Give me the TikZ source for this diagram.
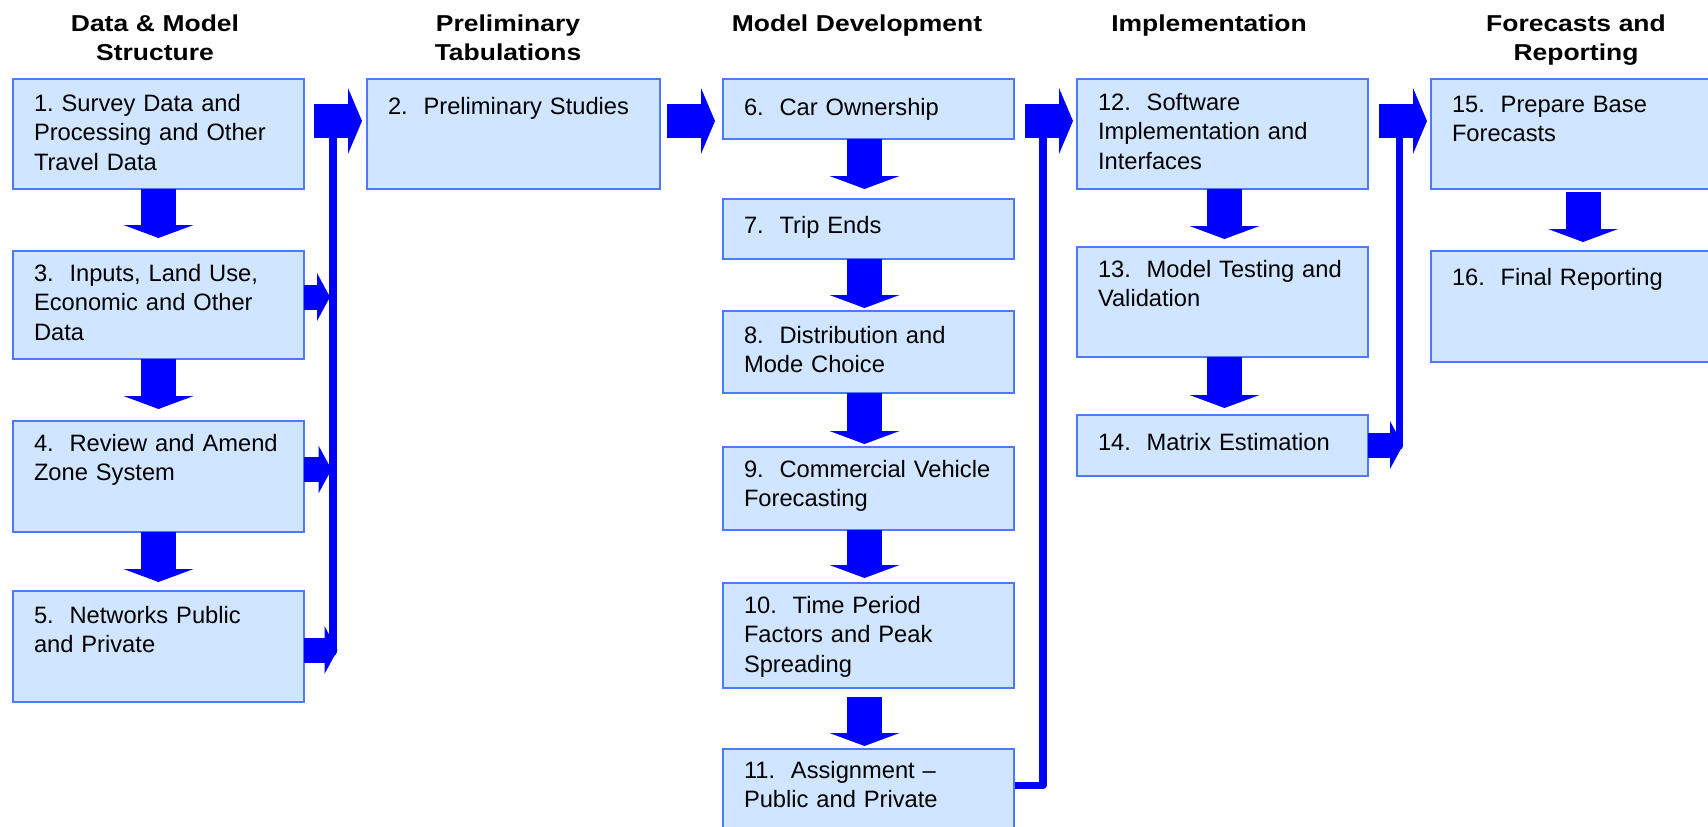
\documentclass[tikz,border=0pt]{standalone}
\usepackage{fontspec}
\setmainfont{Liberation Sans}
\newfontfamily\hdrfont{Liberation Sans}[FakeStretch=1.15]
\usetikzlibrary{arrows.meta,calc}
\definecolor{boxfill}{RGB}{208,229,255}
\definecolor{boxline}{RGB}{77,121,255}
\definecolor{flow}{RGB}{0,0,255}
\pgfdeclarelayer{bg}
\pgfsetlayers{bg,main}
\frenchspacing
\tikzset{
  boxst/.style={draw=boxline, fill=boxfill, line width=1.4pt, rectangle, inner sep=0pt, outer sep=0pt, anchor=north west},
  txt/.style={anchor=base west, inner sep=0pt, outer sep=0pt, text width=300pt, align=left, font={\fontsize{23.7}{29.8}\selectfont}},
  hdr/.style={anchor=base, inner sep=0pt, text width=340pt, align=center, font={\hdrfont\bfseries\fontsize{23}{29.5}\selectfont}},
  vflow/.style={draw=flow, line width=35pt, -{Triangle[width=70pt,length=13pt,line width=0pt]}},
  hflow/.style={draw=flow, line width=34pt, -{Triangle[width=66pt,length=14pt,line width=0pt]}},
  sflow/.style={draw=flow, line width=25pt, -{Triangle[width=48pt,length=13pt,line width=0pt]}},
  bus/.style={draw=flow, line width=7.5pt, line cap=round, line join=round},
}
\begin{document}
\begin{tikzpicture}[x=1pt,y=-1pt]
\useasboundingbox (0,0) rectangle (1708,827);
\clip (0,0) rectangle (1708,827);

% headers
\node[hdr] (h1) at (155,31) {Data \& Model\\Structure};
\node[hdr] (h2) at (508,31) {Preliminary\\Tabulations};
\node[hdr] (h3) at (857,31) {Model Development};
\node[hdr] (h4) at (1209,31) {Implementation};
\node[hdr] (h5) at (1576,31) {Forecasts and\\Reporting};

% boxes
\node[boxst, minimum width=291pt, minimum height=110pt] (b1) at (13,79) {};
\node[boxst, minimum width=291pt, minimum height=108pt] (b3) at (13,251) {};
\node[boxst, minimum width=291pt, minimum height=111pt] (b4) at (13,421) {};
\node[boxst, minimum width=291pt, minimum height=111pt] (b5) at (13,591) {};
\node[boxst, minimum width=293pt, minimum height=110pt] (b2) at (367,79) {};
\node[boxst, minimum width=291pt, minimum height=60pt] (b6) at (723,79) {};
\node[boxst, minimum width=291pt, minimum height=60pt] (b7) at (723,199) {};
\node[boxst, minimum width=291pt, minimum height=82pt] (b8) at (723,311) {};
\node[boxst, minimum width=291pt, minimum height=83pt] (b9) at (723,447) {};
\node[boxst, minimum width=291pt, minimum height=105pt] (b10) at (723,583) {};
\node[boxst, minimum width=291pt, minimum height=111pt] (b11) at (723,749) {};
\node[boxst, minimum width=291pt, minimum height=110pt] (b12) at (1077,79) {};
\node[boxst, minimum width=291pt, minimum height=110pt] (b13) at (1077,247) {};
\node[boxst, minimum width=291pt, minimum height=61pt] (b14) at (1077,415) {};
\node[boxst, minimum width=304pt, minimum height=110pt] (b15) at (1431,79) {};
\node[boxst, minimum width=304pt, minimum height=111pt] (b16) at (1431,251) {};

% box texts
\node[txt] (t1) at ([xshift=21pt,yshift=-32pt]b1.north west) {1. Survey Data and\\Processing and Other\\Travel Data};
\node[txt] (t2) at ([xshift=21pt,yshift=-35pt]b2.north west) {2.\ \ Preliminary Studies};
\node[txt] (t3) at ([xshift=21pt,yshift=-30pt]b3.north west) {3.\ \ Inputs, Land Use,\\Economic and Other\\Data};
\node[txt] (t4) at ([xshift=21pt,yshift=-30pt]b4.north west) {4.\ \ Review and Amend\\Zone System};
\node[txt] (t5) at ([xshift=21pt,yshift=-32pt]b5.north west) {5.\ \ Networks Public\\and Private};
\node[txt] (t6) at ([xshift=21pt,yshift=-36pt]b6.north west) {6.\ \ Car Ownership};
\node[txt] (t7) at ([xshift=21pt,yshift=-34pt]b7.north west) {7.\ \ Trip Ends};
\node[txt] (t8) at ([xshift=21pt,yshift=-32pt]b8.north west) {8.\ \ Distribution and\\Mode Choice};
\node[txt] (t9) at ([xshift=21pt,yshift=-30pt]b9.north west) {9.\ \ Commercial Vehicle\\Forecasting};
\node[txt] (t10) at ([xshift=21pt,yshift=-30pt]b10.north west) {10.\ \ Time Period\\Factors and Peak\\Spreading};
\node[txt] (t11) at ([xshift=21pt,yshift=-29pt]b11.north west) {11.\ \ Assignment –\\Public and Private};
\node[txt] (t12) at ([xshift=21pt,yshift=-31pt]b12.north west) {12.\ \ Software\\Implementation and\\Interfaces};
\node[txt] (t13) at ([xshift=21pt,yshift=-30pt]b13.north west) {13.\ \ Model Testing and\\Validation};
\node[txt] (t14) at ([xshift=21pt,yshift=-35pt]b14.north west) {14.\ \ Matrix Estimation};
\node[txt] (t15) at ([xshift=21pt,yshift=-33pt]b15.north west) {15.\ \ Prepare Base\\Forecasts};
\node[txt] (t16) at ([xshift=21pt,yshift=-34pt]b16.north west) {16.\ \ Final Reporting};

% junction coordinates
\coordinate (jA) at (314,121);
\coordinate (jB) at (1025,121);
\coordinate (jC) at (1379,121);
\coordinate (busLtop) at (333,138);
\coordinate (busLbot) at (333,652);
\coordinate (busMtop) at (1043,138);
\coordinate (busMcorner) at (1043,785.5);
\coordinate (busRtop) at (1399.5,138);
\coordinate (busRbot) at (1399.5,446);
\coordinate (s3) at (330,297);
\coordinate (s4) at (331.5,469.5);
\coordinate (s5) at (337.5,650);
\coordinate (s14) at (1403,445);

% bus lines
\begin{pgfonlayer}{bg}
\draw[bus] (busLtop) -- (busLbot);
\draw[bus] (b11.east |- busMcorner) -- (busMcorner) -- (busMtop);
\draw[bus] (busRtop) -- (busRbot);
\end{pgfonlayer}

% vertical block arrows
\draw[vflow, shorten >=13pt] (b1.south) -- (b3.north);
\draw[vflow, shorten >=12pt] (b3.south) -- (b4.north);
\draw[vflow, shorten >=9pt] (b4.south) -- (b5.north);
\draw[vflow, shorten >=10pt] ([xshift=-4pt]b6.south) -- ([xshift=-4pt]b7.north);
\draw[vflow, shorten >=3pt] ([xshift=-4pt]b7.south) -- ([xshift=-4pt]b8.north);
\draw[vflow, shorten >=3pt] ([xshift=-4pt]b8.south) -- ([xshift=-4pt]b9.north);
\draw[vflow, shorten >=5pt] ([xshift=-4pt]b9.south) -- ([xshift=-4pt]b10.north);
\draw[vflow, shorten <=9pt, shorten >=3pt] ([xshift=-4pt]b10.south) -- ([xshift=-4pt]b11.north);
\draw[vflow, shorten >=8pt] ([xshift=2pt]b12.south) -- ([xshift=2pt]b13.north);
\draw[vflow, shorten >=7pt] ([xshift=2pt]b13.south) -- ([xshift=2pt]b14.north);
\draw[vflow, shorten <=3pt, shorten >=9pt] (b15.south) -- (b16.north);

% horizontal block arrows
\draw[hflow, shorten >=5pt] (jA) -- (jA -| b2.west);
\draw[hflow, shorten <=7pt, shorten >=8pt] (b2.east |- jA) -- (b6.west |- jA);
\draw[hflow, shorten >=4pt] (jB) -- (jB -| b12.west);
\draw[hflow, shorten >=4pt] (jC) -- (jC -| b15.west);

% small arrows into buses
\draw[sflow] (b3.east |- s3) -- (s3);
\draw[sflow] (b4.east |- s4) -- (s4);
\draw[sflow] (b5.east |- s5) -- (s5);
\draw[sflow] (b14.east |- s14) -- (s14);
\end{tikzpicture}
\end{document}
